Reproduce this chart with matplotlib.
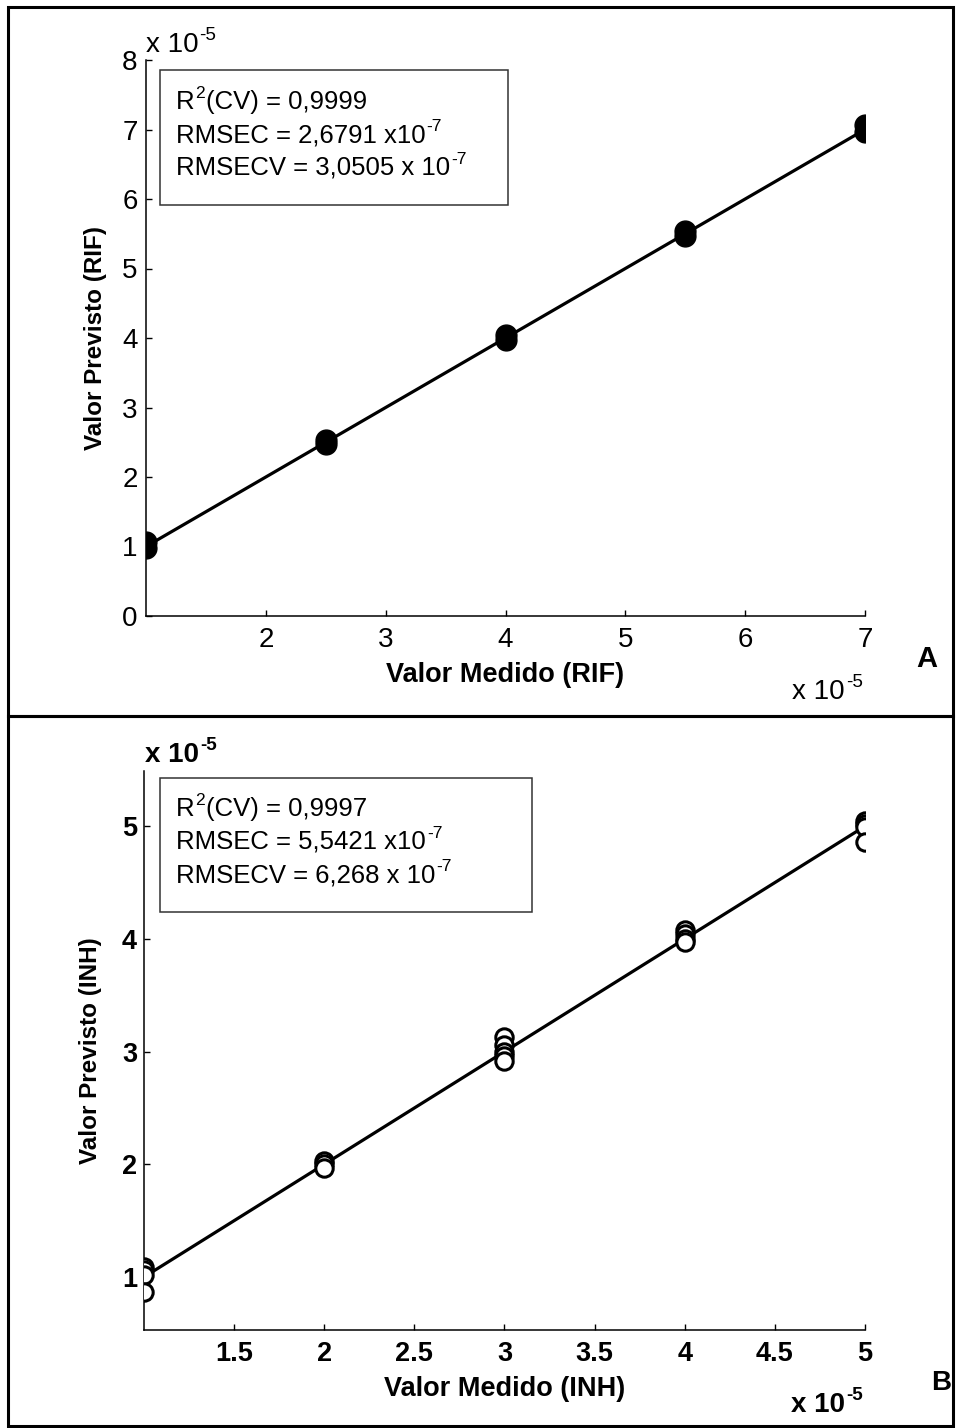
import numpy as np
import matplotlib
matplotlib.use("Agg")
from matplotlib import pyplot as plt
from matplotlib.patches import Rectangle

plt.rcParams['font.family'] = ['Liberation Sans', 'DejaVu Sans']

# values in units of 1e-5
rif_medido = [1, 1, 2.5, 2.5, 4, 4, 5.5, 5.5, 7, 7]
rif_previsto = [0.98, 1.06, 2.47, 2.53, 3.97, 4.04, 5.47, 5.54, 6.97, 7.06]
rif_fit_x = [1, 7]
rif_fit_y = [1, 7]
rif_xticks = [2, 3, 4, 5, 6, 7]
rif_yticks = [0, 1, 2, 3, 4, 5, 6, 7, 8]
rif_stats = [[("R", 0), ("2", 1), ("(CV) = 0,9999", 0)],
             [("RMSEC = 2,6791 x10", 0), ("-7", 1)],
             [("RMSECV = 3,0505 x 10", 0), ("-7", 1)]]

inh_medido = [1, 1, 1, 1, 2, 2, 2, 3, 3, 3, 3, 3, 4, 4, 4, 4, 5, 5, 5, 5]
inh_previsto = [1.09, 1.06, 1.02, 0.87, 2.03, 2.0, 1.97,
                3.13, 3.06, 3.0, 2.96, 2.92, 4.08, 4.04, 4.0, 3.97,
                5.05, 5.02, 4.99, 4.86]
inh_fit_x = [1, 5]
inh_fit_y = [1, 5]
inh_xticks = [1.5, 2, 2.5, 3, 3.5, 4, 4.5, 5]
inh_yticks = [1, 2, 3, 4, 5]
inh_stats = [[("R", 0), ("2", 1), ("(CV) = 0,9997", 0)],
             [("RMSEC = 5,5421 x10", 0), ("-7", 1)],
             [("RMSECV = 6,268 x 10", 0), ("-7", 1)]]

W, H = 956, 1428
fig = plt.figure(figsize=(W / 100, H / 100), dpi=100)
renderer = fig.canvas.get_renderer()


def fx(px):
    return px / W


def fy(py):
    return 1 - py / H


def rich_text(x, y, parts, size, weight='normal', ha='left'):
    # x, y in pixels from the top-left corner, y is the baseline
    arts = []
    for s, sup in parts:
        t = fig.text(0, 0, s, fontsize=size * 0.68 if sup else size,
                     fontweight=weight, ha='left', va='baseline')
        arts.append((t, sup))
    widths = [t.get_window_extent(renderer).width + 1 for t, _ in arts]
    total = sum(widths)
    if ha == 'right':
        x0 = x - total
    elif ha == 'center':
        x0 = x - total / 2
    else:
        x0 = x
    for (t, sup), w in zip(arts, widths):
        yy = y - (size * 100 / 72 * 0.42 if sup else 0)
        t.set_position((fx(x0), fy(yy)))
        x0 += w
    return x0


def style_axes(ax, size, bold, xpad, ypad):
    for s in ['top', 'right']:
        ax.spines[s].set_visible(False)
    for s in ['left', 'bottom']:
        ax.spines[s].set_linewidth(1.1)
    ax.tick_params(direction='in', length=4, width=1, labelsize=size)
    ax.tick_params(axis='x', pad=xpad)
    ax.tick_params(axis='y', pad=ypad)
    if bold:
        for lab in ax.get_xticklabels() + ax.get_yticklabels():
            lab.set_fontweight('bold')


def stats_box(left, top, bottom, lines, baselines, right=None):
    ends = [rich_text(left + 16, yb, parts, 18.5) for parts, yb in zip(lines, baselines)]
    if right is None:
        right = max(ends) + 40
    fig.add_artist(Rectangle((fx(left), fy(bottom)), fx(right) - fx(left), fy(top) - fy(bottom),
                             transform=fig.transFigure, fill=False, edgecolor='#333333', lw=1.1))


# panel A
axA = fig.add_axes([fx(146), fy(616), fx(865) - fx(146), fy(60) - fy(616)])
axA.plot(rif_fit_x, rif_fit_y, color='black', lw=2.3, zorder=3)
axA.plot(rif_medido, rif_previsto, 'o', color='black', ms=15, zorder=4)
axA.set_xlim(1, 7)
axA.set_ylim(0, 8)
axA.set_xticks(rif_xticks)
axA.set_yticks(rif_yticks)
axA.set_xticklabels([str(v) for v in rif_xticks])
axA.set_yticklabels([str(v) for v in rif_yticks])
style_axes(axA, 20, False, 8, 6)
axA.set_xlabel('Valor Medido (RIF)', fontsize=19.5, fontweight='bold', va='center')
axA.xaxis.set_label_coords(0.5, -0.106)
axA.set_ylabel('Valor Previsto (RIF)', fontsize=17.5, fontweight='bold', va='center')
axA.yaxis.set_label_coords(-0.07, 0.5)
stats_box(160, 70, 205, rif_stats, [109, 142, 175])
rich_text(146, 52, [("x 10", 0), ("-5", 1)], 20)
rich_text(864, 699, [("x 10", 0), ("-5", 1)], 20, ha='right')
fig.text(fx(927), fy(659), 'A', fontsize=21, fontweight='bold', ha='center', va='center')

# panel B
axB = fig.add_axes([fx(144), fy(1330), fx(865) - fx(144), fy(771) - fy(1330)])
axB.plot(inh_fit_x, inh_fit_y, color='black', lw=2.3, zorder=3)
axB.plot(inh_medido, inh_previsto, 'o', mfc='white', mec='black', mew=2.2,
         ms=12.5, zorder=4)
axB.set_xlim(1, 5)
axB.set_ylim(0.53, 5.49)
axB.set_xticks(inh_xticks)
axB.set_yticks(inh_yticks)
axB.set_xticklabels([('%g' % v) for v in inh_xticks])
axB.set_yticklabels([str(v) for v in inh_yticks])
style_axes(axB, 19.5, True, 8, 5)
axB.set_xlabel('Valor Medido (INH)', fontsize=19.5, fontweight='bold', va='center')
axB.xaxis.set_label_coords(0.5, -0.105)
axB.set_ylabel('Valor Previsto (INH)', fontsize=17.5, fontweight='bold', va='center')
axB.yaxis.set_label_coords(-0.074, 0.5)
stats_box(160, 778, 912, inh_stats, [816, 849, 882], right=532)
rich_text(145, 762, [("x 10", 0), ("-5", 1)], 20, weight='bold')
rich_text(864, 1412, [("x 10", 0), ("-5", 1)], 20, weight='bold', ha='right')
fig.text(fx(941), fy(1383), 'B', fontsize=20, fontweight='bold', ha='center', va='center')

# panel frames
fig.add_artist(Rectangle((fx(8), fy(716)), fx(953) - fx(8), fy(7) - fy(716),
                         transform=fig.transFigure, fill=False, lw=2.2, edgecolor='black'))
fig.add_artist(Rectangle((fx(8), fy(1426)), fx(953) - fx(8), fy(716) - fy(1426),
                         transform=fig.transFigure, fill=False, lw=2.2, edgecolor='black'))

fig.savefig('out.png', dpi=100)
